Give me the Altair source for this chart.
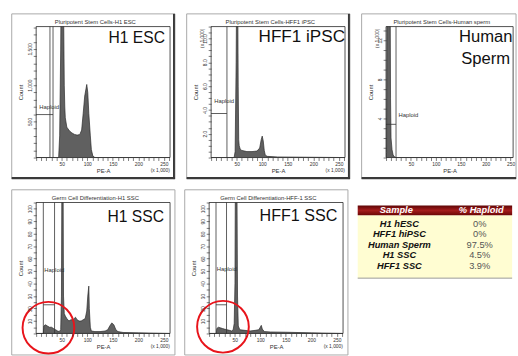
import altair as alt
import pandas as pd

FONT = "Liberation Sans"

# ---------------- data (PE-A x1000, count) ----------------
h1esc_pe = [0, 44, 46, 48, 49, 53, 54, 55, 56, 57, 60, 65, 70, 75, 80, 84, 86, 89, 92, 95, 99, 101, 103, 106, 108, 111, 115, 262]
h1esc_ct = [0, 0, 300, 1500, 2500, 2500, 1800, 1000, 700, 550, 420, 370, 340, 320, 310, 315, 330, 380, 610, 850, 1010, 900, 610, 300, 110, 20, 0, 0]

hff1ipsc_pe = [0, 45, 47, 49, 50, 52, 53, 54, 55, 57, 60, 70, 80, 90, 95, 98, 100, 102, 104, 106, 110, 130, 262]
hff1ipsc_ct = [0, 0, 0.5, 8, 15, 15, 6, 1.5, 1.0, 0.7, 0.6, 0.5, 0.5, 0.55, 0.8, 1.5, 1.8, 1.4, 0.6, 0.2, 0.1, 0.05, 0]

sperm_pe = [0, 1, 2, 8, 9, 10, 12, 14, 16, 20, 255]
sperm_ct = [0, 0.5, 20, 20, 6, 2.0, 0.8, 0.3, 0.1, 0, 0]

h1ssc_pe = [0, 14, 15, 18, 22, 26, 30, 34, 38, 42, 45, 48, 49.5, 50.5, 52.5, 53.5, 55, 57, 60, 64, 68, 72, 77, 80, 84, 88, 92, 96, 99, 101, 103, 104, 106, 108, 115, 125, 135, 140, 144, 148, 152, 156, 160, 170, 200, 262]
h1ssc_ct = [0, 0, 6, 7, 6, 5, 5, 4, 3, 2, 1.5, 3, 30, 150, 150, 30, 16, 14, 12, 10, 11, 11, 13, 11, 10, 10, 11, 12, 18, 30, 38, 20, 5, 2, 1.5, 1.5, 2, 3, 6, 8.5, 7, 3, 1.5, 0.8, 0.5, 0]

hff1ssc_pe = [0, 14, 15, 18, 22, 26, 30, 35, 40, 44, 47, 49, 50.5, 51.5, 54, 55.5, 57, 60, 70, 80, 90, 97, 100, 102, 104, 108, 120, 150, 200, 262]
hff1ssc_ct = [0, 0, 4, 5, 4.5, 4, 3.5, 3, 2.5, 2, 3, 8, 40, 150, 150, 30, 6, 3, 2.5, 2, 2.5, 3, 5, 6.5, 3.5, 1.5, 1.2, 1, 0.5, 0]

table_header = ["Sample", "% Haploid"]
table_samples = ["H1 hESC", "HFF1 hiPSC", "Human Sperm", "H1 SSC", "HFF1 SSC"]
table_haploid = ["0%", "0%", "97.5%", "4.5%", "3.9%"]

ONE = pd.DataFrame({"k": [0]})


def panel(pe, ct, title, W, H, xmax, ydom, ystep_minor, ystep_label, gates, gate_h,
          hap, big, big_pos, big_size, big_align="right", yunit=False, xunit=True,
          circle=None, dark_right=False, dark_bottom=False, frame_right=5):
    xs = alt.Scale(domain=[0, xmax], nice=False, zero=False)
    ys = alt.Scale(domain=ydom, nice=False, zero=False)
    xaxis = alt.Axis(values=list(range(0, int(xmax) + 1, 10)),
                     labelExpr="datum.value > 0 && datum.value % 50 === 0 ? datum.label : ''",
                     title="PE-A", grid=False, tickSize=3, tickWidth=0.6, tickColor="#222",
                     domain=False, labelFontSize=5, labelColor="#333", labelPadding=1,
                     labelOverlap=False, labelFlush=False, titleFontSize=6,
                     titleFontWeight="normal", titleColor="#333", titlePadding=1,
                     labelFont=FONT, titleFont=FONT, zindex=2)
    n = int(round(ydom[1] / ystep_minor))
    yvals = [round(i * ystep_minor, 4) for i in range(n + 1)]
    yaxis = alt.Axis(values=yvals,
                     labelExpr=f"datum.value > 0 && abs(datum.value % {ystep_label}) < 0.001 ? datum.label : ''",
                     title="Count", grid=False, tickSize=3, tickWidth=0.6, tickColor="#222",
                     domain=False, labelFontSize=5, labelColor="#333", labelPadding=1,
                     labelAngle=270, labelOverlap=False, labelFlush=False, titleFontSize=6,
                     titleFontWeight="normal", titleColor="#333", titlePadding=4,
                     labelFont=FONT, titleFont=FONT, zindex=2)

    def X(f):
        return alt.X(f"{f}:Q", scale=xs, axis=xaxis)

    def Y(f):
        return alt.Y(f"{f}:Q", scale=ys, axis=yaxis)

    layers = []
    layers.append(alt.Chart(ONE).mark_rect(fillOpacity=0, stroke="#a8a8a8", strokeWidth=1).encode(
        x=alt.value(-25), x2=alt.value(W + frame_right), y=alt.value(-13), y2=alt.value(H + 22)))
    if dark_right:
        layers.append(alt.Chart(ONE).mark_rule(color="#3a3a3a", strokeWidth=2).encode(
            x=alt.value(W + 4), y=alt.value(-13), y2=alt.value(H + 22)))
    if dark_bottom:
        layers.append(alt.Chart(ONE).mark_rule(color="#3a3a3a", strokeWidth=2).encode(
            x=alt.value(-25), x2=alt.value(W + frame_right), y=alt.value(H + 21)))
    layers.append(alt.Chart(pd.DataFrame({"pe": pe, "ct": ct})).mark_area(
        fill="#606060", stroke="#2a2a2a", strokeWidth=0.7, clip=True).encode(x=X("pe"), y=Y("ct")))
    layers.append(alt.Chart(pd.DataFrame({"pe": gates})).mark_rule(
        color="#333", strokeWidth=0.8).encode(x=X("pe")))
    layers.append(alt.Chart(pd.DataFrame({"pe": [gate_h[0]], "pe2": [gate_h[1]], "ct": [gate_h[2]]})).mark_rule(
        color="#333", strokeWidth=0.8).encode(x=X("pe"), x2="pe2", y=Y("ct")))
    layers.append(alt.Chart(pd.DataFrame({"pe": [hap[0]], "ct": [hap[1]], "t": ["Haploid"]})).mark_text(
        align="left", baseline="middle", fontSize=6, color="#333").encode(x=X("pe"), y=Y("ct"), text="t:N"))
    layers.append(alt.Chart(pd.DataFrame({"pe": [big_pos[0]], "ct": [big_pos[1]], "t": [big]})).mark_text(
        align=big_align, baseline="alphabetic", fontSize=big_size, color="#111", lineBreak="\n",
        lineHeight=22, clip=False).encode(x=X("pe"), y=Y("ct"), text="t:N"))
    layers.append(alt.Chart(ONE).mark_rect(fillOpacity=0, stroke="#222", strokeWidth=0.8).encode(
        x=alt.value(0), x2=alt.value(W), y=alt.value(0), y2=alt.value(H)))
    # small panel title just above the plot box
    layers.append(alt.Chart(pd.DataFrame({"t": [title]})).mark_text(
        fontSize=6, color="#333", baseline="bottom", align="center").encode(
        x=alt.value(W / 2 - 8), y=alt.value(-2), text="t:N"))
    if yunit:
        layers.append(alt.Chart(ONE).mark_text(text="(x 1,000)", angle=270, fontSize=5, color="#333").encode(
            x=alt.value(-9), y=alt.value(12)))
    if xunit:
        layers.append(alt.Chart(ONE).mark_text(text="(x 1,000)", fontSize=5, color="#333").encode(
            x=alt.value(W - 10), y=alt.value(H + 13)))
    if circle is not None:
        layers.append(alt.Chart(pd.DataFrame({"pe": [circle[0]], "ct": [circle[1]]})).mark_point(
            shape="circle", size=2800, filled=False, color="#e8141b", strokeWidth=2, opacity=1,
            clip=False).encode(x=X("pe"), y=Y("ct")))
    return alt.layer(*layers).properties(width=W, height=H)


p1 = panel(h1esc_pe, h1esc_ct, "Pluripotent Stem Cells-H1 ESC", 137, 134, 262, [0, 1810], 100, 500,
           [27, 33], (0, 33, 594), (6, 700), "H1 ESC", (252, 1580), 16,
           dark_right=True, dark_bottom=True)
p2 = panel(hff1ipsc_pe, hff1ipsc_ct, "Pluripotent Stem Cells-HFF1 iPSC", 137, 134, 262, [0, 11], 0.5, 2,
           [31], (0, 31, 3.7), (6, 4.75), "HFF1 iPSC", (262, 9.7), 17.5, yunit=True,
           dark_right=True, dark_bottom=True)
p3 = panel(sperm_pe, sperm_ct, "Pluripotent Stem Cells-Human sperm", 130, 134, 255, [0, 13.4], 1, 4,
           [20], (0, 20, 3.4), (25, 4.4), "Human\nSperm", (200, 11.8), 17, big_align="center",
           yunit=True, xunit=False, dark_bottom=True, frame_right=3)
p4 = panel(h1ssc_pe, h1ssc_ct, "Germ Cell Differentiation-H1 SSC", 137, 134, 262, [0, 105], 5, 10,
           [14, 36], (14, 36, 23), (16, 51), "H1 SSC", (250, 89), 16, circle=(24, 4.6))
p5 = panel(hff1ssc_pe, hff1ssc_ct, "Germ Cell Differentiation-HFF-1 SSC", 137, 134, 262, [0, 105], 5, 10,
           [13.4, 34], (13.4, 34, 23), (15, 52), "HFF1 SSC", (251, 90), 16.5, circle=(27, 5.4))

# ---------------- table ----------------
tx = alt.Scale(domain=[0, 1], nice=False, zero=False)
ty = alt.Scale(domain=[-0.75, 6.6], reverse=True, nice=False, zero=False)


def TX(f):
    return alt.X(f"{f}:Q", scale=tx, axis=None)


def TY(f):
    return alt.Y(f"{f}:Q", scale=ty, axis=None)


hdr_grad = alt.Gradient(gradient="linear", x1=0, x2=0, y1=0, y2=1,
                        stops=[alt.GradientStop(color="#5e0505", offset=0),
                               alt.GradientStop(color="#a41c1c", offset=0.5),
                               alt.GradientStop(color="#6a0606", offset=1)])
hdr_bg = alt.Chart(pd.DataFrame({"x": [0], "x2": [1], "y": [-0.47], "y2": [0.47]})).mark_rect(
    color=hdr_grad).encode(x=TX("x"), x2="x2", y=TY("y"), y2="y2")
body_bg = alt.Chart(pd.DataFrame({"x": [0], "x2": [1], "y": [0.47], "y2": [6.45]})).mark_rect(
    color="#fffdd2").encode(x=TX("x"), x2="x2", y=TY("y"), y2="y2")
bottom_line = alt.Chart(pd.DataFrame({"x": [0], "x2": [1], "y": [6.45]})).mark_rule(
    color="#999", strokeWidth=1).encode(x=TX("x"), x2="x2", y=TY("y"))
hdr_txt = alt.Chart(pd.DataFrame({"x": [0.25, 0.8], "y": [0, 0], "t": table_header})).mark_text(
    color="white", fontWeight="bold", fontStyle="italic", fontSize=9.5, baseline="middle").encode(
    x=TX("x"), y=TY("y"), text="t:N")
rows = pd.DataFrame({"name": table_samples, "val": table_haploid})
rows["r"] = [i + 1.3 for i in range(len(rows))]
rows["xn"] = 0.27
rows["xv"] = 0.79
name_txt = alt.Chart(rows).mark_text(color="#111", fontWeight="bold", fontStyle="italic",
                                     fontSize=9.5, baseline="middle").encode(
    x=TX("xn"), y=TY("r"), text="name:N")
val_txt = alt.Chart(rows).mark_text(color="#555", fontSize=9.5, baseline="middle").encode(
    x=TX("xv"), y=TY("r"), text="val:N")
table = alt.layer(body_bg, hdr_bg, bottom_line, hdr_txt, name_txt, val_txt).properties(width=158, height=79)

row1 = alt.hconcat(p1, p2, p3, spacing=8)
row2 = alt.hconcat(p4, p5, table, spacing=8)
chart = alt.vconcat(row1, row2, spacing=8).properties(
    padding={"left": 10, "top": 8, "right": 0, "bottom": 0}
).configure(font=FONT).configure_view(stroke="transparent")

chart.save("out.html", embed_options={"renderer": "svg", "actions": False})
